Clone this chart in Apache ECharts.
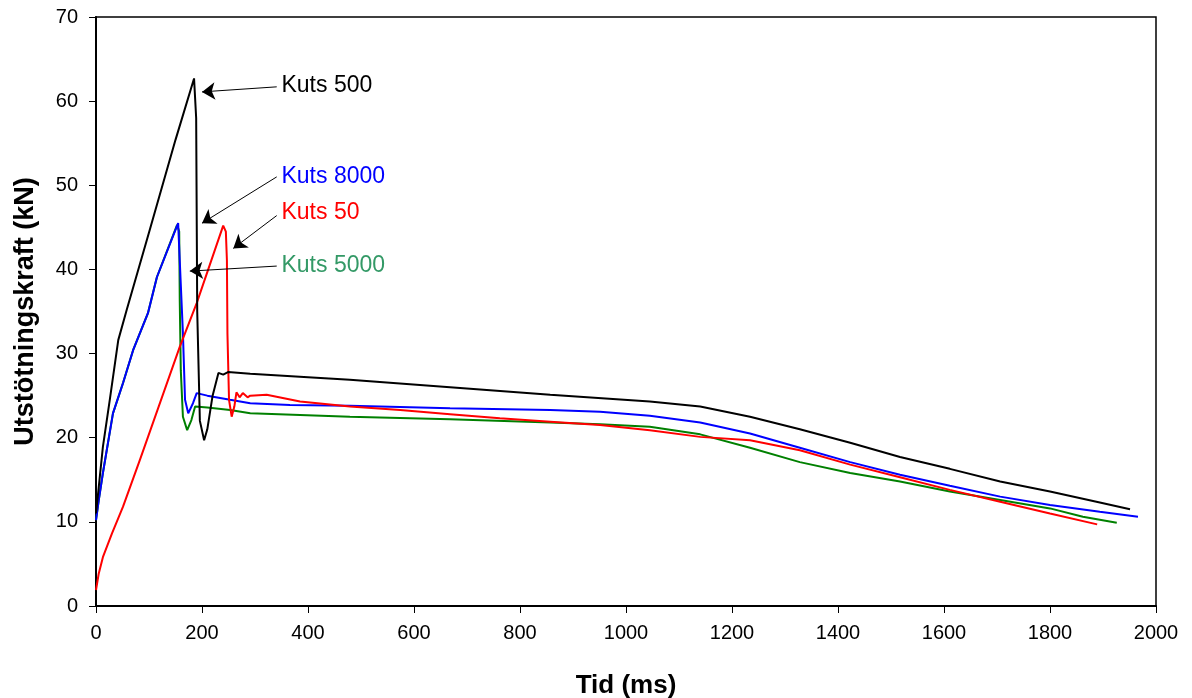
<!DOCTYPE html>
<html>
<head>
<meta charset="utf-8">
<script src="https://cdn.jsdelivr.net/npm/echarts@6/dist/echarts.min.js"></script>
<style>
  html, body { margin: 0; padding: 0; background: #fff; }
  #chart { width: 1192px; height: 698px; }
</style>
</head>
<body>
<div id="chart"></div>
<script>
// Kuts 500 (black)
const t500 = [0, 5, 13, 26, 42, 58, 100, 150, 185, 189, 191, 196, 204, 210, 220, 231, 240, 249, 291, 400, 479, 668, 857, 1045, 1140, 1234, 1328, 1423, 1517, 1611, 1706, 1800, 1894, 1951];
const f500 = [11.0, 14.0, 18.9, 24.5, 31.6, 35.2, 44.4, 55.4, 62.7, 58.0, 35.0, 22.0, 19.7, 21.0, 25.0, 27.7, 27.5, 27.8, 27.6, 27.2, 26.9, 26.0, 25.1, 24.3, 23.7, 22.5, 21.0, 19.4, 17.7, 16.3, 14.8, 13.6, 12.3, 11.5];

// Kuts 8000 (blue)
const t8000 = [0, 5, 13, 32, 51, 70, 98, 115, 155, 158, 164, 168, 174, 183, 190, 210, 253, 291, 366, 479, 668, 857, 951, 1045, 1140, 1234, 1328, 1423, 1517, 1611, 1706, 1800, 1894, 1966];
const f8000 = [10.2, 12.5, 15.8, 22.9, 26.5, 30.4, 34.8, 39.1, 45.5, 41.1, 32.4, 24.5, 22.9, 24.1, 25.3, 25.0, 24.5, 24.1, 23.9, 23.8, 23.5, 23.3, 23.1, 22.6, 21.8, 20.5, 18.8, 17.1, 15.6, 14.3, 13.0, 12.0, 11.2, 10.6];

// Kuts 50 (red)
const t50 = [0, 5, 13, 30, 51, 83, 158, 190, 240, 245, 247, 248, 251, 256, 261, 265, 271, 277, 286, 291, 322, 385, 479, 574, 668, 762, 857, 951, 1045, 1140, 1234, 1328, 1423, 1517, 1611, 1706, 1800, 1889];
const f50 = [1.9, 3.8, 5.8, 8.6, 11.8, 17.4, 30.8, 36.0, 45.2, 44.5, 41.1, 32.4, 24.5, 22.5, 23.7, 25.4, 24.8, 25.3, 24.8, 25.0, 25.1, 24.3, 23.7, 23.3, 22.8, 22.3, 21.9, 21.5, 20.9, 20.1, 19.7, 18.5, 16.8, 15.3, 13.8, 12.4, 11.0, 9.7];

// Kuts 5000 (green)
const t5000 = [0, 5, 13, 32, 51, 70, 98, 115, 153, 157, 158, 160, 164, 172, 180, 187, 210, 253, 291, 479, 668, 857, 951, 1045, 1140, 1234, 1328, 1423, 1517, 1611, 1706, 1800, 1862, 1926];
const f5000 = [10.2, 12.5, 15.8, 22.9, 26.5, 30.4, 34.8, 39.1, 45.3, 44.5, 36.4, 28.0, 22.5, 20.9, 22.1, 23.7, 23.6, 23.3, 22.9, 22.5, 22.2, 21.8, 21.6, 21.3, 20.4, 18.8, 17.1, 15.8, 14.8, 13.6, 12.6, 11.6, 10.6, 9.9];

// annotations: label text, arrow start (at label) and arrow tip, in data units
const annoNames = ['Kuts 500', 'Kuts 8000', 'Kuts 50', 'Kuts 5000'];
const annoColors = ['#000000', '#0000ff', '#ff0000', '#339966'];
const annoText = [[349, 61.8], [349, 51.0], [349, 46.7], [349, 40.5]];
const annoFrom = [[341, 61.7], [341, 51.0], [341, 46.4], [341, 40.4]];
const annoTo = [[200, 61.1], [200, 45.5], [259, 42.5], [177, 39.8]];

const font = 'Liberation Sans, Arial, sans-serif';

function pairs(t, f) {
  return t.map((x, i) => [x, f[i]]);
}

function lineSeries(name, t, f, color) {
  return {
    name: name,
    type: 'line',
    data: pairs(t, f),
    showSymbol: false,
    symbol: 'none',
    lineStyle: { color: color, width: 2 },
    itemStyle: { color: color },
    z: 3
  };
}

const chart = echarts.init(document.getElementById('chart'));

chart.setOption({
  animation: false,
  backgroundColor: '#fff',
  grid: {
    left: 96, top: 17, right: 36, bottom: 92,
    outerBoundsMode: 'none',
    containLabel: false,
    show: true, borderColor: '#000', borderWidth: 1.5
  },
  xAxis: {
    type: 'value',
    min: 0, max: 2000, interval: 200,
    name: 'Tid (ms)',
    nameLocation: 'middle',
    nameGap: 67,
    nameTextStyle: { fontFamily: font, fontSize: 26, fontWeight: 'bold', color: '#000' },
    axisLine: { show: true, lineStyle: { color: '#000', width: 2 } },
    axisTick: { show: true, inside: false, length: 7, lineStyle: { color: '#000', width: 1 } },
    axisLabel: { fontFamily: font, fontSize: 20, color: '#000', margin: 17, formatter: v => String(v) },
    splitLine: { show: false }
  },
  yAxis: {
    type: 'value',
    min: 0, max: 70, interval: 10,
    name: 'Utstötningskraft (kN)',
    nameLocation: 'middle',
    nameGap: 57,
    nameTextStyle: { fontFamily: font, fontSize: 27, fontWeight: 'bold', color: '#000' },
    axisLine: { show: true, lineStyle: { color: '#000', width: 2 } },
    axisTick: { show: true, inside: false, length: 7, lineStyle: { color: '#000', width: 1 } },
    axisLabel: { fontFamily: font, fontSize: 20, color: '#000', margin: 18 },
    splitLine: { show: false }
  },
  series: [
    lineSeries('Kuts 5000', t5000, f5000, '#008000'),
    lineSeries('Kuts 8000', t8000, f8000, '#0000ff'),
    lineSeries('Kuts 50', t50, f50, '#ff0000'),
    lineSeries('Kuts 500', t500, f500, '#000000'),
    {
      // arrows + labels
      name: 'annotations',
      type: 'line',
      data: [],
      silent: true,
      z: 5,
      markLine: {
        silent: true,
        symbol: ['none', 'arrow'],
        symbolSize: 13,
        label: { show: false },
        lineStyle: { color: '#000', width: 1, type: 'solid' },
        itemStyle: { color: '#000' },
        emphasis: { disabled: true },
        data: annoFrom.map((p, i) => [{ coord: p }, { coord: annoTo[i] }])
      },
      markPoint: {
        silent: true,
        symbol: 'circle',
        symbolSize: 1,
        itemStyle: { color: 'rgba(0,0,0,0)' },
        label: {
          show: true,
          position: 'right',
          distance: 0,
          fontFamily: font,
          fontSize: 23
        },
        data: annoText.map((p, i) => ({
          coord: p,
          name: annoNames[i],
          label: { formatter: annoNames[i], color: annoColors[i] }
        }))
      }
    }
  ]
});
</script>
</body>
</html>
